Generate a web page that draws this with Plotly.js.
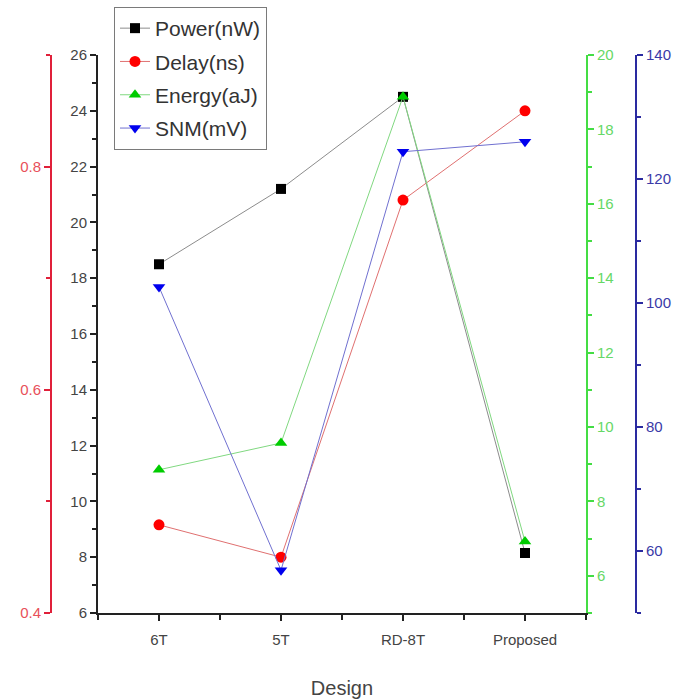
<!DOCTYPE html>
<html>
<head>
<meta charset="utf-8">
<script src="https://cdn.plot.ly/plotly-3.0.1.min.js"></script>
<style>html,body{margin:0;padding:0;background:#fff;}#chart{width:691px;height:700px;}</style>
</head>
<body>
<div id="chart"></div>
<script>
const categories = ["6T", "5T", "RD-8T", "Proposed"];
const powerNW = [18.5, 21.2, 24.5, 8.15];
const delayNS = [0.479, 0.45, 0.77, 0.85];
const energyAJ = [8.85, 9.57, 18.88, 6.92];
const snmMV = [102.6, 56.9, 124.4, 126.0];
const seriesNames = ["Power(nW)", "Delay(ns)", "Energy(aJ)", "SNM(mV)"];

const W = 691, H = 700;
const xIdx = categories.map((_, i) => i);
const font = "Liberation Sans, Arial, sans-serif";

function tr(y, name, axis, color, lineColor, symbol, size) {
  return {
    x: xIdx, y: y, name: name, yaxis: axis, type: "scatter", mode: "lines+markers",
    line: {color: lineColor, width: 1},
    marker: {symbol: symbol, size: size, color: color},
    legendgroup: name
  };
}

const data = [
  tr(powerNW, seriesNames[0], "y", "#000000", "#8c8c8c", "square", 10),
  tr(delayNS, seriesNames[1], "y2", "#ff0000", "#e07070", "circle", 11),
  tr(energyAJ, seriesNames[2], "y3", "#00cc00", "#80d880", "triangle-up", 11),
  tr(snmMV, seriesNames[3], "y4", "#0000ee", "#7070d0", "triangle-down", 11)
];

const tickFont = (c) => ({family: font, size: 15, color: c});
const common = {showgrid: false, zeroline: false, showline: true, linewidth: 2,
  ticks: "outside", ticklen: 6, tickwidth: 2, automargin: false, fixedrange: true};

const layout = {
  width: W, height: H,
  margin: {l: 0, r: 0, t: 0, b: 0},
  paper_bgcolor: "#fff", plot_bgcolor: "#fff",
  showlegend: true,
  legend: {
    x: 114 / W, y: 1 - 7 / H, xanchor: "left", yanchor: "top",
    bordercolor: "#7a7a7a", borderwidth: 1, bgcolor: "rgba(255,255,255,0)",
    font: {family: font, size: 21, color: "#333"},
    traceorder: "grouped", tracegroupgap: 3, itemwidth: 30
  },
  xaxis: Object.assign({}, common, {
    domain: [98 / W, 586 / W], range: [-0.5, 3.5],
    tickmode: "array", tickvals: xIdx, ticktext: categories,
    linecolor: "#222", tickcolor: "#222", tickfont: tickFont("#444"),
    ticklabelstandoff: 6,
    minor: {dtick: 0.5, tick0: -0.5, ticks: "outside", ticklen: 5, tickwidth: 2, tickcolor: "#222"},
    title: {text: "Design", font: {family: font, size: 20, color: "#444"}, standoff: 34}
  }),
  yaxis: Object.assign({}, common, {
    domain: [1 - 613 / H, 1 - 55 / H], range: [6, 26], dtick: 2,
    linecolor: "#222", tickcolor: "#222", tickfont: tickFont("#444"),
    minor: {dtick: 1, ticks: "outside", ticklen: 4, tickwidth: 2, tickcolor: "#222"}
  }),
  yaxis2: Object.assign({}, common, {
    overlaying: "y", side: "left", anchor: "free", position: 51 / W,
    range: [0.4, 0.9], dtick: 0.2, tick0: 0.4, tickformat: ".1f",
    linecolor: "#e0203a", tickcolor: "#e0203a", tickfont: tickFont("#e8505a"),
    minor: {dtick: 0.1, ticks: "outside", ticklen: 4, tickwidth: 2, tickcolor: "#e0203a"}
  }),
  yaxis3: Object.assign({}, common, {
    overlaying: "y", side: "right", anchor: "x",
    range: [5, 20], dtick: 2, tick0: 6,
    linecolor: "#44dd44", tickcolor: "#44dd44", tickfont: tickFont("#66d866"),
    minor: {dtick: 1, ticks: "outside", ticklen: 4, tickwidth: 2, tickcolor: "#44dd44"}
  }),
  yaxis4: Object.assign({}, common, {
    overlaying: "y", side: "right", anchor: "free", position: 636 / W,
    range: [50, 140], dtick: 20, tick0: 60,
    linecolor: "#2a2aa0", tickcolor: "#2a2aa0", tickfont: tickFont("#3a3aa8"),
    minor: {dtick: 10, ticks: "outside", ticklen: 4, tickwidth: 2, tickcolor: "#2a2aa0"}
  })
};

Plotly.newPlot("chart", data, layout, {displayModeBar: false, staticPlot: true});
</script>
</body>
</html>
